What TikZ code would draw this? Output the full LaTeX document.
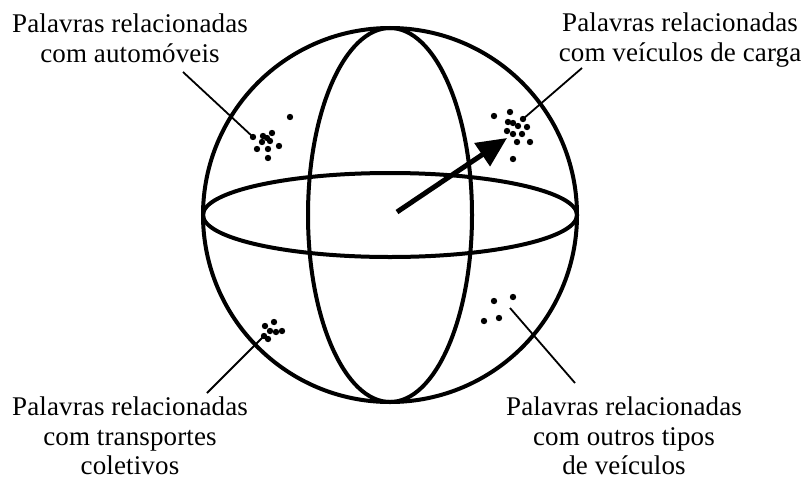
\documentclass[tikz,border=0pt]{standalone}
\usepackage{fontspec}
\newfontfamily\labelfont{Liberation Serif}[LetterSpace=0.5]
\usetikzlibrary{arrows.meta}
\tikzset{
  outline/.style={line width=4pt, draw=black},
  leader/.style={line width=1.8pt, draw=black},
  pt/.style={fill=black, circle, inner sep=0pt, minimum size=6.4pt},
  lbl/.style={anchor=north, inner sep=0pt, align=center,
    font={\labelfont\fontsize{27}{29.5}\selectfont}},
  vecarrow/.style={line width=5pt, -{Triangle[length=30pt,width=27pt]}}
}
\begin{document}
\begin{tikzpicture}[x=1pt,y=-1pt]
\useasboundingbox (0,0) rectangle (805,485);
% sphere
\coordinate (c) at (390,215);
\draw[outline] (c) circle (187);
\draw[outline] (c) ellipse [x radius=187, y radius=42];
\draw[outline] (c) ellipse [x radius=82, y radius=187];
% vector
\coordinate (a0) at (397,212);
\coordinate (a1) at (507,138);
\draw[vecarrow] (a0) -- (a1);
% clusters
\foreach \p/\n in {{(290,117)}/tl1,{(253,137)}/tl2,{(263,136)}/tl3,{(272,133)}/tl4,{(267,138)}/tl5,{(262,142)}/tl6,{(270,141)}/tl7,{(257,149)}/tl8,{(268,149)}/tl9,{(279,146)}/tl10,{(268,158)}/tl11}
  \node[pt] (\n) at \p {};
\foreach \p/\n in {{(494,116)}/tr1,{(510,112)}/tr2,{(523,119)}/tr3,{(508,122)}/tr4,{(513,123)}/tr5,{(518,126)}/tr6,{(527,127)}/tr7,{(507,131)}/tr8,{(513,134)}/tr9,{(522,134)}/tr10,{(517,142)}/tr11,{(530,142)}/tr12,{(513,159)}/tr13}
  \node[pt] (\n) at \p {};
\foreach \p/\n in {{(265,326)}/bl1,{(274,322)}/bl2,{(270,331)}/bl3,{(276,332)}/bl4,{(282,331)}/bl5,{(264,336)}/bl6,{(268,339)}/bl7}
  \node[pt] (\n) at \p {};
\foreach \p/\n in {{(494,301)}/br1,{(513,297)}/br2,{(484,321)}/br3,{(499,318)}/br4}
  \node[pt] (\n) at \p {};
% labels
\node[lbl] (ltl) at (130,14) {Palavras relacionadas\\com automóveis};
\node[lbl] (ltr) at (680,13) {Palavras relacionadas\\com veículos de carga};
\node[lbl] (lbl) at (130,397) {Palavras relacionadas\\com transportes\\coletivos};
\node[lbl] (lbr) at (624,397) {Palavras relacionadas\\com outros tipos\\de veículos};
% leader lines
\coordinate (qtl) at (183,72);
\coordinate (qtr) at (582,68);
\coordinate (qbl) at (207,393);
\coordinate (qbr) at (575,383);
\coordinate (ptl) at (253,137);
\coordinate (ptr) at (523,119);
\coordinate (pbl) at (263,337);
\coordinate (pbr) at (510,308);
\draw[leader] (qtl) -- (ptl);
\draw[leader] (qtr) -- (ptr);
\draw[leader] (qbl) -- (pbl);
\draw[leader] (qbr) -- (pbr);
\end{tikzpicture}
\end{document}
